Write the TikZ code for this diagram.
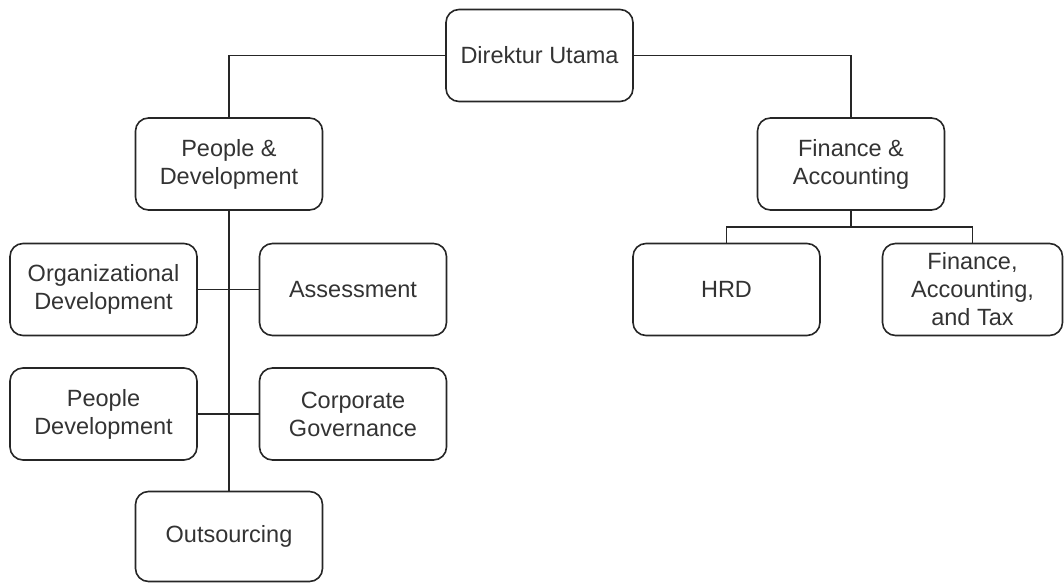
\documentclass[tikz,border=0pt]{standalone}
\usepackage{fontspec}
\setmainfont{Liberation Sans}
\begin{document}
\begin{tikzpicture}[x=1pt,y=-1pt,
  box/.style={draw=black!85, line width=1.6pt, rounded corners=13pt, minimum width=187pt, minimum height=92pt,
    align=center, inner sep=2pt, text=black!80, font=\fontsize{23.5}{28}\selectfont},
  link/.style={draw=black!85, line width=1.5pt}]
\useasboundingbox (0,0) rectangle (1064,583);
\node[box] (dir) at (539.5,55.5) {Direktur Utama};
\node[box] (pd) at (229,164) {People \&\\Development};
\node[box] (fa) at (851,164) {Finance \&\\Accounting};
\node[box] (od) at (103.5,289.5) {Organizational\\Development};
\node[box] (as) at (353,289.5) {Assessment};
\node[box] (hrd) at (726.5,289.5) {HRD};
\node[box, minimum width=180pt] (fat) at (972.5,289.5) {Finance,\\Accounting,\\and Tax};
\node[box] (pdv) at (103.5,414) {People\\Development};
\node[box] (cg) at (353,414) {Corporate\\Governance};
\node[box, minimum height=90pt] (out) at (229,536.5) {Outsourcing};
\coordinate (fb) at (851,227);
\draw[link] (dir.west) -| (pd.north);
\draw[link] (dir.east) -| (fa.north);
\draw[link] (pd.south) -- (out.north);
\draw[link] (od.east) -- (as.west);
\draw[link] (pdv.east) -- (cg.west);
\draw[link] (fa.south) -- (fb);
\draw[link] (fb) -| (hrd.north);
\draw[link] (fb) -| (fat.north);
\end{tikzpicture}
\end{document}
